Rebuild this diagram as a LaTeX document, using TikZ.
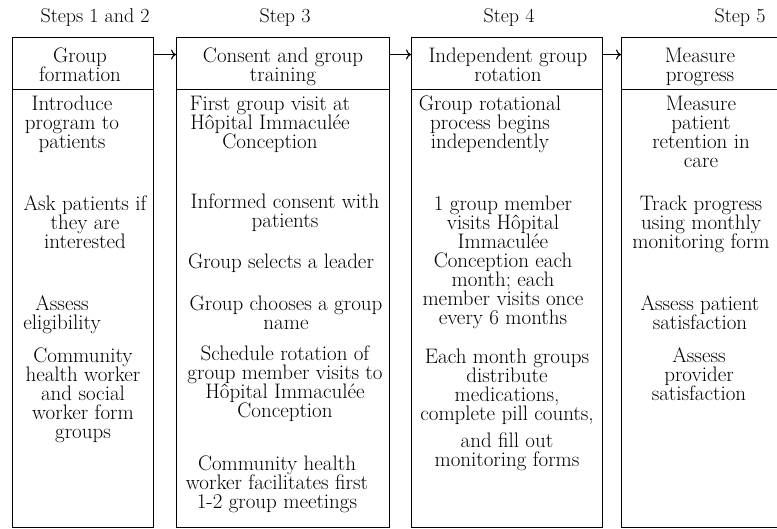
\documentclass[tikz,border=0pt]{standalone}
\usepackage{fontspec}
\setmainfont{Latin Modern Roman}
\usetikzlibrary{arrows.meta}
\newcommand\myfst{\rule{0pt}{15pt}}
\newcommand\myfont{\fontsize{21}{19}\selectfont\lineskiplimit=-30pt\relax}
\newcommand\mylblfont{\fontsize{20}{19}\selectfont}
\begin{document}
\begin{tikzpicture}[x=1pt,y=-1pt,
  frame/.style={draw,line width=1.1pt,inner sep=0pt,anchor=north west},
  txt/.style={inner sep=0pt,anchor=north,align=center,font=\myfont},
  steplbl/.style={inner sep=0pt,anchor=base,font=\mylblfont},
  flow/.style={line width=1.1pt,-{To[length=5pt,width=10pt]}}]
\useasboundingbox (0,0) rectangle (777,529);
% header boxes
\node[frame,minimum width=141pt,minimum height=52pt] (h1) at (12,37) {};
\node[frame,minimum width=213pt,minimum height=52pt] (h2) at (176,37) {};
\node[frame,minimum width=191pt,minimum height=52pt] (h3) at (411,37) {};
\node[frame,minimum width=175pt,minimum height=52pt] (h4) at (621,37) {};
% body boxes
\node[frame,minimum width=141pt,minimum height=438pt] (b1) at (12,89) {};
\node[frame,minimum width=213pt,minimum height=438pt] (b2) at (176,89) {};
\node[frame,minimum width=191pt,minimum height=438pt] (b3) at (411,89) {};
\node[frame,minimum width=175pt,minimum height=438pt] (b4) at (621,89) {};
% arrows
\draw[flow] ([yshift=9pt]h1.east) -- ([yshift=9pt]h2.west);
\draw[flow] ([yshift=9pt]h2.east) -- ([yshift=9pt]h3.west);
\draw[flow] ([yshift=9pt]h3.east) -- ([yshift=9pt]h4.west);
% step labels
\node[steplbl] (s1) at (95,23) {Steps 1 and 2};
\node[steplbl] (s2) at (285,23) {Step 3};
\node[steplbl] (s3) at (509,23) {Step 4};
\node[steplbl] (s4) at (740,23) {Step 5};
% header texts
\node[txt] (t1) at (80,47) {\myfst Group\\formation};
\node[txt] (t2) at (283,47) {\myfst Consent and group\\training};
\node[txt] (t3) at (508,47) {\myfst Independent group\\rotation};
\node[txt] (t4) at (700,47) {\myfst Measure\\progress};
% column 1
\node[txt] (a1) at (72,95) {\myfst Introduce\\program to\\patients};
\node[txt] (a2) at (85,195) {\myfst Ask patients if\\they are\\interested};
\node[txt] (a3) at (62,295) {\myfst Assess\\eligibility};
\node[txt] (a4) at (83,347) {\myfst Community\\health worker\\and social\\worker form\\groups};
% column 2
\node[txt] (c1) at (270,95) {\myfst First group visit at\\Hôpital Immaculée\\Conception};
\node[txt] (c2) at (285,193) {\myfst Informed consent with\\patients};
\node[txt] (c3) at (281,253) {\myfst Group selects a leader};
\node[txt] (c4) at (286,295) {\myfst Group chooses a group\\name};
\node[txt] (c5) at (285,345) {\myfst Schedule rotation of\\group member visits to\\Hôpital Immaculée\\Conception};
\node[txt] (c6) at (277,455) {\myfst Community health\\worker facilitates first\\1-2 group meetings};
% column 3
\node[txt] (d1) at (490,95) {\myfst Group rotational\\process begins\\independently};
\node[txt] (d2) at (503,195) {\myfst 1 group member\\visits Hôpital\\Immaculée\\Conception each\\month; each\\member visits once\\every 6 months};
\node[txt] (d3) at (507,348) {\myfst Each month groups\\distribute\\medications,\\complete pill counts,\\[8pt]and fill out\\monitoring forms};
% column 4
\node[txt] (e1) at (701,95) {\myfst Measure\\patient\\retention in\\care};
\node[txt] (e2) at (701,195) {\myfst Track progress\\using monthly\\monitoring form};
\node[txt] (e3) at (700,295) {\myfst Assess patient\\satisfaction};
\node[txt] (e4) at (699,347) {\myfst Assess\\provider\\satisfaction};
\end{tikzpicture}
\end{document}
